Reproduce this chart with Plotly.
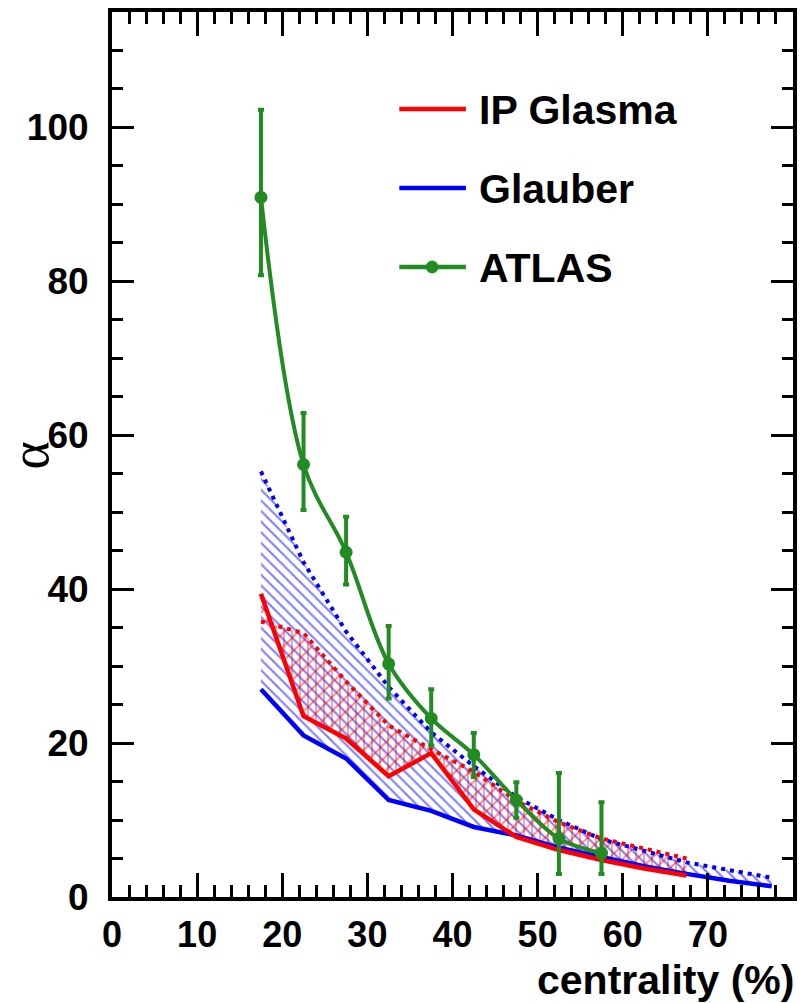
import plotly.graph_objects as go

# ---------------- data ----------------
cent_glauber = [17.5, 22.5, 27.5, 32.5, 37.5, 42.5, 47.5, 52.5, 57.5, 62.5, 67.5, 72.5, 77.5]
glauber_low = [27.0, 21.0, 18.0, 12.6, 11.2, 9.1, 8.0, 6.4, 5.2, 4.0, 3.0, 2.1, 1.4]
glauber_high = [55.3, 43.5, 34.5, 27.3, 21.4, 17.0, 13.0, 10.0, 7.5, 6.0, 4.5, 3.5, 2.5]

cent_ipg = [17.5, 22.5, 27.5, 32.5, 37.5, 42.5, 47.5, 52.5, 57.5, 62.5, 67.5]
ipg_low = [39.4, 23.5, 20.6, 15.7, 18.7, 11.4, 7.8, 6.1, 4.8, 3.7, 2.8]
ipg_high = [35.8, 34.3, 28.0, 22.3, 19.2, 16.3, 12.5, 9.7, 7.6, 6.3, 5.0]

cent_atlas = [17.5, 22.5, 27.5, 32.5, 37.5, 42.5, 47.5, 52.5, 57.5]
atlas_val = [90.9, 56.2, 44.8, 30.3, 23.2, 18.5, 12.6, 7.6, 5.7]
atlas_err_plus = [11.4, 6.7, 4.6, 4.9, 3.8, 2.8, 2.3, 8.5, 6.6]
atlas_err_minus = [10.1, 5.9, 4.2, 4.5, 3.5, 2.9, 2.3, 4.6, 2.7]

x_tickvals = [0, 10, 20, 30, 40, 50, 60, 70]
y_tickvals = [0, 20, 40, 60, 80, 100]
legend_names = ["IP Glasma", "Glauber", "ATLAS"]

RED = "#ff0000"
BLUE = "#0000ff"
GREEN = "#228b22"
FONT = "Liberation Sans"

fig = go.Figure()

# hatched bands (closed polygons built from the band edges)
def band(xs, lo, hi):
    return list(xs) + list(xs)[::-1], list(lo) + list(hi)[::-1]

bx, by = band(cent_glauber, glauber_low, glauber_high)
fig.add_trace(go.Scatter(x=bx, y=by, fill="toself", mode="lines",
                         line=dict(width=0, color="rgba(0,0,0,0)"),
                         fillcolor="rgba(0,0,0,0)",
                         fillpattern=dict(shape="\\", fgcolor=BLUE, bgcolor="rgba(0,0,0,0)",
                                          size=7.5, solidity=0.28),
                         showlegend=False, hoverinfo="skip"))
rx, ry = band(cent_ipg, ipg_low, ipg_high)
for shp, sz in (("/", 10), ("|", 8)):
    fig.add_trace(go.Scatter(x=rx, y=ry, fill="toself", mode="lines",
                             line=dict(width=0, color="rgba(0,0,0,0)"),
                             fillcolor="rgba(0,0,0,0)",
                             fillpattern=dict(shape=shp, fgcolor=RED, bgcolor="rgba(0,0,0,0)",
                                              size=sz, solidity=0.18),
                             showlegend=False, hoverinfo="skip"))

# band edges
fig.add_trace(go.Scatter(x=cent_glauber, y=glauber_high, mode="lines",
                         line=dict(color=BLUE, width=4, dash="4px,5px"), showlegend=False))
fig.add_trace(go.Scatter(x=cent_ipg, y=ipg_high, mode="lines",
                         line=dict(color=RED, width=4, dash="4px,5px"), showlegend=False))
fig.add_trace(go.Scatter(x=cent_glauber, y=glauber_low, mode="lines",
                         line=dict(color=BLUE, width=4.5), showlegend=False))
fig.add_trace(go.Scatter(x=cent_ipg, y=ipg_low, mode="lines",
                         line=dict(color=RED, width=4.5), showlegend=False))

# ATLAS data
fig.add_trace(go.Scatter(x=cent_atlas, y=atlas_val, mode="lines+markers",
                         line=dict(color=GREEN, width=4, shape="spline", smoothing=1.0),
                         marker=dict(color=GREEN, size=13),
                         error_y=dict(type="data", symmetric=False, array=atlas_err_plus,
                                      arrayminus=atlas_err_minus, color=GREEN,
                                      thickness=4, width=3),
                         showlegend=False))

# ---------------- manual legend ----------------
L, R, T, B = 112, 797, 12, 897
W, H = R - L, B - T
def px(xp):
    return (xp - L) / W
def py(yp):
    return (B - yp) / H

legend_rows = [(legend_names[0], RED, 109), (legend_names[1], BLUE, 188), (legend_names[2], GREEN, 267)]
for name, col, yy in legend_rows:
    fig.add_shape(type="line", xref="paper", yref="paper",
                  x0=px(401), x1=px(468), y0=py(yy), y1=py(yy),
                  line=dict(color=col, width=4.5))
    fig.add_annotation(xref="paper", yref="paper", x=px(479), y=py(yy + 1),
                       text=name, showarrow=False, xanchor="left", yanchor="middle",
                       font=dict(family=FONT, size=41, color="black", weight="bold"))
fig.add_shape(type="circle", xref="paper", yref="paper",
              x0=px(428), x1=px(440), y0=py(273), y1=py(261),
              fillcolor=GREEN, line=dict(color=GREEN, width=1))

# axis titles
fig.add_annotation(xref="paper", yref="paper", x=px(799), y=py(980),
                   text="centrality (%)", showarrow=False, xanchor="right", yanchor="middle",
                   borderpad=0,
                   font=dict(family=FONT, size=41, color="black", weight="bold"))
fig.add_annotation(xref="paper", yref="paper", x=px(30), y=py(455),
                   text="α", showarrow=False, textangle=-90, xanchor="center", yanchor="middle",
                   font=dict(family="Liberation Serif", size=54, color="black"))

fig.update_layout(
    width=802, height=1003,
    margin=dict(l=L, r=802 - R, t=T, b=1003 - B),
    paper_bgcolor="white", plot_bgcolor="white",
    showlegend=False,
    xaxis=dict(range=[0, 80], tickvals=x_tickvals, ticks="inside", ticklen=24, tickwidth=3,
               tickcolor="black", showline=True, linewidth=4, linecolor="black", mirror="ticks",
               showgrid=False, zeroline=False, ticklabelstandoff=3,
               tickfont=dict(family=FONT, size=36, color="black", weight="bold"),
               minor=dict(dtick=2, ticks="inside", ticklen=12, tickwidth=3, tickcolor="black",
                          showgrid=False)),
    yaxis=dict(range=[0, 115], tickvals=y_tickvals, ticks="inside", ticklen=22, tickwidth=3,
               tickcolor="black", showline=True, linewidth=4, linecolor="black", mirror="ticks",
               showgrid=False, zeroline=False, ticklabelstandoff=12,
               tickfont=dict(family=FONT, size=37, color="black", weight="bold"),
               minor=dict(dtick=5, ticks="inside", ticklen=11, tickwidth=3, tickcolor="black",
                          showgrid=False)),
)

fig.write_html("out.html")
